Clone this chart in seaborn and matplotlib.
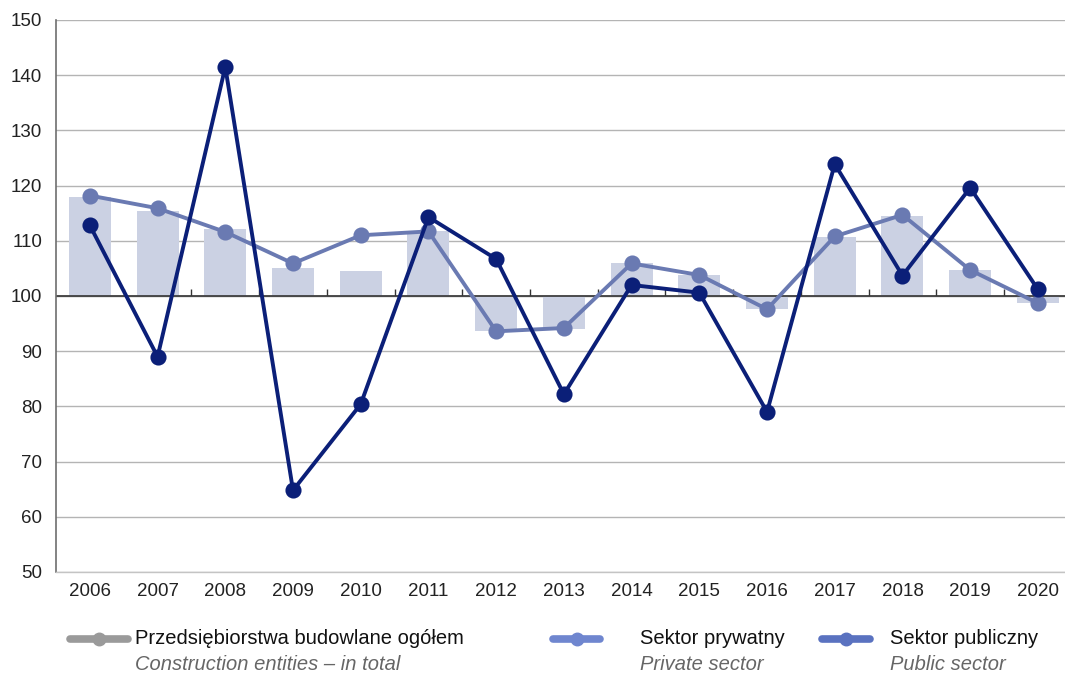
import numpy as np
import matplotlib.pyplot as plt
from matplotlib.lines import Line2D
import seaborn as sns

# data (previous year = 100)
years = [str(y) for y in range(2006, 2021)]
total = np.array([118.0, 115.4, 112.1, 105.1, 104.5, 111.8, 93.7, 94.0,
                  106.0, 103.8, 97.6, 110.7, 114.5, 104.7, 98.7])
private = np.array([118.2, 115.9, 111.6, 105.9, 111.0, 111.7, 93.6, 94.2,
                    105.9, 103.8, 97.6, 110.8, 114.7, 104.7, 98.7])
public = np.array([112.8, 89.0, 141.5, 64.8, 80.4, 114.3, 106.7, 82.2,
                   102.0, 100.6, 79.0, 123.9, 103.7, 119.6, 101.2])
y_ticks = [50, 60, 70, 80, 90, 100, 110, 120, 130, 140, 150]
base = 100

bar_color = '#cbd1e3'
private_color = '#6a7ab2'
public_color = '#0b1f78'

sns.set_style('white')
plt.rcParams['font.family'] = ['Liberation Sans', 'DejaVu Sans']

fig = plt.figure(figsize=(10.65, 6.75), dpi=100)
ax = fig.add_axes([56 / 1065, 1 - 572 / 675, 1009 / 1065, 552 / 675])

sns.barplot(x=years, y=total - base, bottom=base, color=bar_color,
            saturation=1, width=0.62, errorbar=None, linewidth=0,
            edgecolor='none', ax=ax, zorder=2)
ax.axhline(base, color='#333333', linewidth=1.2, zorder=2.5)
sns.pointplot(x=years, y=private, color=private_color, markers='o',
              linewidth=2.8, markersize=9.5, ax=ax, zorder=3)
sns.pointplot(x=years, y=public, color=public_color, markers='o',
              linewidth=2.8, markersize=9.5, ax=ax, zorder=4)

ax.set_ylim(50, 150)
ax.set_xlim(-0.5, 14.4)
ax.set_yticks(y_ticks)
ax.yaxis.grid(True, color='#b4b4b4', linewidth=1)
ax.xaxis.grid(False)
ax.set_axisbelow(True)
ax.set_xlabel('')
ax.set_ylabel('')
for side in ['top', 'right']:
    ax.spines[side].set_visible(False)
ax.spines['bottom'].set_color('#c4c4c4')
ax.spines['bottom'].set_linewidth(1)
ax.spines['left'].set_color('#6e6e6e')
ax.spines['left'].set_linewidth(1.2)
ax.tick_params(axis='y', length=5, color='#6e6e6e', width=1,
               labelsize=13.5, labelcolor='#222222', pad=5)
ax.tick_params(axis='x', length=0, labelsize=13.5, labelcolor='#222222', pad=8)

# category axis crossing at 100
sec = ax.secondary_xaxis((base - 50) / 100)
sec.set_xticks(np.arange(len(years) - 1) + 0.5)
sec.set_xticklabels([])
sec.tick_params(direction='out', length=5, width=1, color='#333333')
sec.spines['bottom'].set_visible(False)

# legend drawn by hand: Polish label on top, English italic below
entries = [
    ('Przedsiębiorstwa budowlane ogółem', 'Construction entities – in total',
     '#9a9a9a', 70, 128, 135),
    ('Sektor prywatny', 'Private sector', '#6f86cf', 553, 600, 640),
    ('Sektor publiczny', 'Public sector', '#5a72c0', 822, 870, 890),
]
W, H = 1065, 675
for pl, en, col, x0, x1, xt in entries:
    fig.add_artist(Line2D([x0 / W, x1 / W], [1 - 639 / H, 1 - 639 / H],
                          transform=fig.transFigure, color=col,
                          linewidth=5.5, solid_capstyle='round'))
    fig.add_artist(Line2D([(x0 + x1) / 2 / W], [1 - 639 / H],
                          transform=fig.transFigure, color=col,
                          marker='o', markersize=9, linestyle='none'))
    fig.text(xt / W, 1 - 639 / H, pl, fontsize=14.5, color='#111111',
             va='center', ha='left')
    fig.text(xt / W, 1 - 665 / H, en, fontsize=14.5, color='#666666',
             va='center', ha='left', style='italic')

fig.savefig('out.png', dpi=100)
